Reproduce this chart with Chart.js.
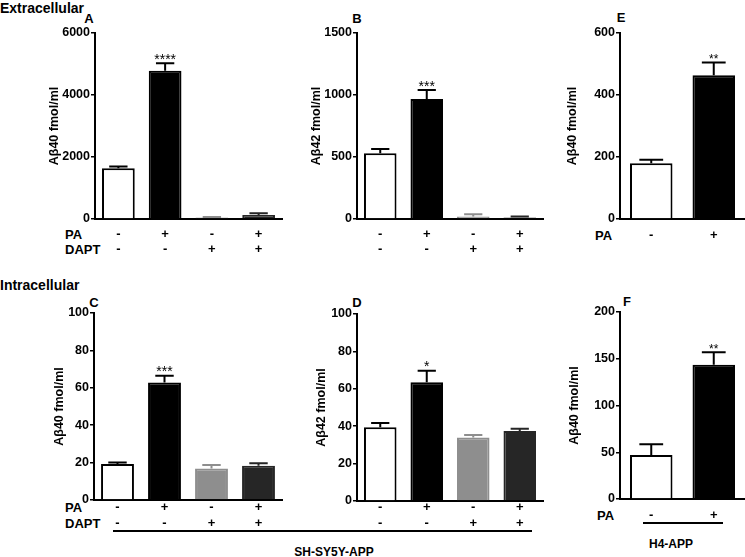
<!DOCTYPE html>
<html>
<head>
<meta charset="utf-8">
<script src="https://cdn.jsdelivr.net/npm/chart.js@4.4.1/dist/chart.umd.min.js"></script>
<style>
  body {
    margin: 0;
    width: 745px;
    height: 557px;
    position: relative;
    overflow: hidden;
    background: #fff;
    color: #000;
    font-family: "Liberation Sans", Arial, sans-serif;
    font-weight: bold;
  }
  canvas { position: absolute; }
  .t { position: absolute; white-space: nowrap; line-height: 1; }
  .c { transform: translate(-50%, -50%); }
  .m { transform: translateY(-50%); }
  .rule { position: absolute; height: 1.5px; background: #000; }
</style>
</head>
<body>
<div class="t m" style="left:0;top:8px;font-size:14px">Extracellular</div>
<div class="t m" style="left:0;top:285px;font-size:14px">Intracellular</div>

<div class="t c" style="left:89px;top:18px;font-size:13px">A</div>
<div class="t c" style="left:357px;top:18px;font-size:13px">B</div>
<div class="t c" style="left:621px;top:17px;font-size:13px">E</div>
<div class="t c" style="left:94px;top:302px;font-size:13px">C</div>
<div class="t c" style="left:357px;top:302px;font-size:13px">D</div>
<div class="t c" style="left:627px;top:301px;font-size:13px">F</div>

<div class="t m" style="left:65px;top:234px;font-size:13px">PA</div>
<div class="t m" style="left:65px;top:249px;font-size:13px">DAPT</div>
<div class="t m" style="left:595px;top:235px;font-size:13px">PA</div>
<div class="t m" style="left:65px;top:507px;font-size:13px">PA</div>
<div class="t m" style="left:65px;top:523px;font-size:13px">DAPT</div>
<div class="t m" style="left:597px;top:515px;font-size:13px">PA</div>

<div class="rule" style="left:113px;top:530px;width:419px"></div>
<div class="rule" style="left:643px;top:522px;width:80px"></div>
<div class="t c" style="left:334px;top:552px;font-size:12px">SH-SY5Y-APP</div>
<div class="t c" style="left:671px;top:544px;font-size:12px">H4-APP</div>

<canvas id="panelA"></canvas>
<canvas id="panelB"></canvas>
<canvas id="panelE"></canvas>
<canvas id="panelC"></canvas>
<canvas id="panelD"></canvas>
<canvas id="panelF"></canvas>

<script>
// treatment rows under the bars
const paRow = ['-', '+', '-', '+'];
const daptRow = ['-', '-', '+', '+'];
const paOnly = ['-', '+'];

// extracellular, SH-SY5Y-APP
const ab40Extra = [1635, 4785, 45, 130];
const ab40ExtraErr = [55, 237, 22, 55];
const ab40ExtraSig = ['', '****', '', ''];

const ab42Extra = [530, 968, 20, 12];
const ab42ExtraErr = [34, 72, 18, 9];
const ab42ExtraSig = ['', '***', '', ''];

// extracellular, H4-APP
const ab40ExtraH4 = [180, 464];
const ab40ExtraH4Err = [11, 41];
const ab40ExtraH4Sig = ['', '**'];

// intracellular, SH-SY5Y-APP
const ab40Intra = [19.2, 62.8, 16.9, 18.3];
const ab40IntraErr = [0.9, 3.7, 1.8, 1.3];
const ab40IntraSig = ['', '***', '', ''];

const ab42Intra = [39.5, 63.5, 34.0, 37.4];
const ab42IntraErr = [2.2, 6.1, 1.3, 1.2];
const ab42IntraSig = ['', '*', '', ''];

// intracellular, H4-APP
const ab40IntraH4 = [47, 143.5];
const ab40IntraH4Err = [11.5, 13.5];
const ab40IntraH4Sig = ['', '**'];

const labels4 = paRow.map((pa, i) => [pa, daptRow[i]]);
const fills = ['#ffffff', '#000000', '#8e8e8e', '#262626'];
const edges = ['#000000', '#000000', '#8e8e8e', '#262626'];

const Y_W = 60;
const PAD_TOP = 12;
const X_H = 40;
const FONT = '"Liberation Sans", Arial, sans-serif';

// SEM bars (upper half only) and significance stars
const errorBars = {
  id: 'errorBars',
  afterDatasetsDraw(chart) {
    const { ctx } = chart;
    const yScale = chart.scales.y;
    const ds = chart.data.datasets[0];
    const meta = chart.getDatasetMeta(0);
    ctx.save();
    ctx.lineWidth = 2;
    meta.data.forEach((bar, i) => {
      const top = yScale.getPixelForValue(ds.data[i] + ds.errors[i]);
      const half = bar.width * 0.28;
      ctx.strokeStyle = ds.borderColor[i];
      ctx.beginPath();
      ctx.moveTo(bar.x, bar.y);
      ctx.lineTo(bar.x, top);
      ctx.moveTo(bar.x - half, top);
      ctx.lineTo(bar.x + half, top);
      ctx.stroke();
      if (ds.stars[i]) {
        ctx.fillStyle = '#000';
        ctx.font = `${ds.starSize}px ${FONT}`;
        ctx.textAlign = 'center';
        ctx.textBaseline = 'alphabetic';
        ctx.fillText(ds.stars[i], bar.x, top + 0.5);
      }
    });
    ctx.restore();
  },
};

function drawPanel(id, area, cfg) {
  const canvas = document.getElementById(id);
  const w = Y_W + (area.right - area.left) + 2;
  const h = PAD_TOP + (area.bottom - area.top) + X_H;
  canvas.width = w;
  canvas.height = h;
  canvas.style.width = `${w}px`;
  canvas.style.height = `${h}px`;
  canvas.style.left = `${area.left - Y_W}px`;
  canvas.style.top = `${area.top - PAD_TOP}px`;

  const n = cfg.values.length;
  new Chart(canvas, {
    type: 'bar',
    data: {
      labels: cfg.labels,
      datasets: [{
        data: cfg.values,
        errors: cfg.errors,
        stars: cfg.stars,
        starSize: cfg.starSize,
        backgroundColor: fills.slice(0, n),
        borderColor: edges.slice(0, n),
        borderWidth: 2,
        barPercentage: cfg.barPct,
        categoryPercentage: 1,
      }],
    },
    options: {
      responsive: false,
      animation: false,
      devicePixelRatio: 1,
      layout: { padding: { top: PAD_TOP, right: 2, left: 0, bottom: 0 } },
      plugins: {
        legend: { display: false },
        tooltip: { enabled: false },
      },
      scales: {
        x: {
          z: 1,
          grid: { display: false, drawTicks: false },
          border: { color: '#000', width: 2 },
          ticks: {
            color: '#000',
            font: { family: FONT, size: 13, weight: 'bold', lineHeight: `${cfg.rowH}px` },
            padding: cfg.tickPad,
            maxRotation: 0,
            autoSkip: false,
          },
          afterFit(scale) { scale.height = X_H; },
        },
        y: {
          z: 1,
          min: 0,
          max: cfg.max,
          ticks: {
            stepSize: cfg.step,
            color: '#000',
            padding: 1,
            font: { family: FONT, size: 12.5, weight: 'bold' },
            callback: (value) => String(value),
          },
          grid: {
            drawOnChartArea: false,
            drawTicks: true,
            tickLength: 4,
            color: '#000',
            lineWidth: 1.5,
          },
          border: { color: '#000', width: 2 },
          title: {
            display: true,
            text: cfg.title,
            color: '#000',
            font: { family: FONT, size: 12.5, weight: 'bold' },
            padding: { top: cfg.titlePad, bottom: 0 },
          },
          afterFit(scale) { scale.width = Y_W; },
        },
      },
    },
    plugins: [errorBars],
  });
}

drawPanel('panelA', { left: 95, right: 282, top: 33, bottom: 219 }, {
  labels: labels4, values: ab40Extra, errors: ab40ExtraErr, stars: ab40ExtraSig,
  max: 6000, step: 2000, title: 'A\u03b240 fmol/ml', titlePad: 12.5,
  barPct: 0.7, starSize: 14, rowH: 15, tickPad: 7.8,
});
drawPanel('panelB', { left: 357, right: 543, top: 33, bottom: 219 }, {
  labels: labels4, values: ab42Extra, errors: ab42ExtraErr, stars: ab42ExtraSig,
  max: 1500, step: 500, title: 'A\u03b242 fmol/ml', titlePad: 12.5,
  barPct: 0.7, starSize: 14, rowH: 15, tickPad: 7.8,
});
drawPanel('panelE', { left: 620, right: 745, top: 33, bottom: 219 }, {
  labels: paOnly, values: ab40ExtraH4, errors: ab40ExtraH4Err, stars: ab40ExtraH4Sig,
  max: 600, step: 200, title: 'A\u03b240 fmol/ml', titlePad: 5.5,
  barPct: 0.68, starSize: 12, rowH: 15, tickPad: 8.5,
});
drawPanel('panelC', { left: 94, right: 282, top: 313, bottom: 500 }, {
  labels: labels4, values: ab40Intra, errors: ab40IntraErr, stars: ab40IntraSig,
  max: 100, step: 20, title: 'A\u03b240 fmol/ml', titlePad: 18.5,
  barPct: 0.7, starSize: 14, rowH: 16, tickPad: -1,
});
drawPanel('panelD', { left: 357, right: 543, top: 314, bottom: 501 }, {
  labels: labels4, values: ab42Intra, errors: ab42IntraErr, stars: ab42IntraSig,
  max: 100, step: 20, title: 'A\u03b242 fmol/ml', titlePad: 17.5,
  barPct: 0.7, starSize: 14, rowH: 16, tickPad: -2,
});
drawPanel('panelF', { left: 620, right: 745, top: 312, bottom: 499 }, {
  labels: paOnly, values: ab40IntraH4, errors: ab40IntraH4Err, stars: ab40IntraH4Sig,
  max: 200, step: 50, title: 'A\u03b240 fmol/ml', titlePad: 7.5,
  barPct: 0.68, starSize: 12, rowH: 15, tickPad: 8.5,
});
</script>
</body>
</html>
